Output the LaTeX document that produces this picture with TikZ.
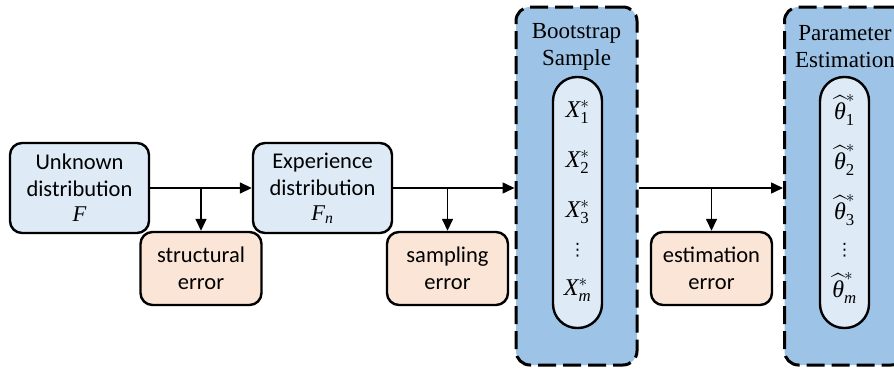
\documentclass[tikz,border=0pt]{standalone}
\usepackage{fontspec}
\usepackage{amsmath}
\setmainfont{Carlito}
\newfontfamily\tnr{Liberation Serif}
\newfontfamily\dejavu{DejaVu Sans}
\usetikzlibrary{arrows.meta}
\definecolor{boxblue}{HTML}{DEEBF7}
\definecolor{boxorange}{HTML}{FBE5D6}
\definecolor{panelblue}{HTML}{9DC3E6}
\newcommand{\xstar}[1]{$\text{\tnr\itshape X}^{*}_{\text{\tnr #1}}$}
\newcommand{\thstar}[1]{$\widehat{\text{\tnr\itshape θ}}^{*}_{\text{\tnr #1}}$}
\begin{document}
\begin{tikzpicture}[x=1pt, y=-1pt,
    distbox/.style={rectangle, rounded corners=12pt, draw, line width=2.4pt, fill=boxblue, minimum width=139pt, minimum height=90pt, align=center, font=\fontsize{22.5}{27}\selectfont},
    errbox/.style={rectangle, rounded corners=12pt, draw, line width=2.4pt, fill=boxorange, minimum width=121pt, minimum height=73pt, align=center, font=\fontsize{22.5}{27}\selectfont},
    panel/.style={rectangle, rounded corners=14pt, draw, line width=3pt, dash pattern=on 18pt off 7pt, fill=panelblue, minimum width=121pt, minimum height=358pt},
    pill/.style={rectangle, rounded corners=24pt, draw, line width=2.4pt, fill=boxblue, minimum width=49pt, minimum height=251pt},
    title/.style={align=center, font=\tnr\fontsize{23}{27}\selectfont},
    item/.style={font=\fontsize{24}{27}\selectfont, inner sep=0pt},
    dots/.style={font=\dejavu\fontsize{17}{17}\selectfont, inner sep=0pt},
    arr/.style={-{Triangle[length=12pt, width=11pt]}, line width=1.5pt}
]
\useasboundingbox (0,0) rectangle (894,372);
\clip (0,0) rectangle (894,372);

% Distributions
\node[distbox] (unk) at (79.5, 188)  {Unknown\\distribution\\[-2pt]{\tnr\itshape F}};
\node[distbox] (exp) at (322.5, 188) {Experience\\distribution\\[-2pt]{\tnr\itshape F}$_{\text{\tnr\itshape n}}$};

% Errors
\node[errbox] (serr) at (201, 268.5)   {structural\\error};
\node[errbox] (smerr) at (447.5, 268.5) {sampling\\error};
\node[errbox] (eerr) at (711.5, 268.5)  {estimation\\error};

% Panels
\node[panel] (boot) at (576.5, 186)  {};
\node[panel] (param) at (845, 186)   {};
\node[title] (boottitle) at (576.5, 47)  {Bootstrap\\Sample};
\node[title] (paramtitle) at (845, 47)   {Parameter\\Estimation};
\node[pill] (bootpill) at (577.5, 202.5)  {};
\node[pill] (parampill) at (844.5, 202.5) {};

% Samples
\node[item] (x1) at (577.5, 112) {\xstar{1}};
\node[item] (x2) at (577.5, 162) {\xstar{2}};
\node[item] (x3) at (577.5, 212) {\xstar{3}};
\node[dots] (xd) at (577.5, 250) {⋮};
\node[item] (xm) at (577.5, 290) {\xstar{\itshape m}};

% Estimates
\node[item] (t1) at (844.5, 110) {\thstar{1}};
\node[item] (t2) at (844.5, 160) {\thstar{2}};
\node[item] (t3) at (844.5, 210) {\thstar{3}};
\node[dots] (td) at (844.5, 250) {⋮};
\node[item] (tm) at (844.5, 288) {\thstar{\itshape m}};

% Flow
\draw[arr] (unk.east) -- (exp.west);
\draw[arr] (exp.east) -- (exp.east -| boot.west);
\draw[arr] (boot.east |- exp.east) -- (exp.east -| param.west);

% Branches
\coordinate (b1) at (serr.north |- unk.east);
\coordinate (b2) at (smerr.north |- exp.east);
\coordinate (b3) at (eerr.north |- exp.east);
\draw[arr] (b1) -- (serr.north);
\draw[arr] (b2) -- (smerr.north);
\draw[arr] (b3) -- (eerr.north);
\end{tikzpicture}
\end{document}
